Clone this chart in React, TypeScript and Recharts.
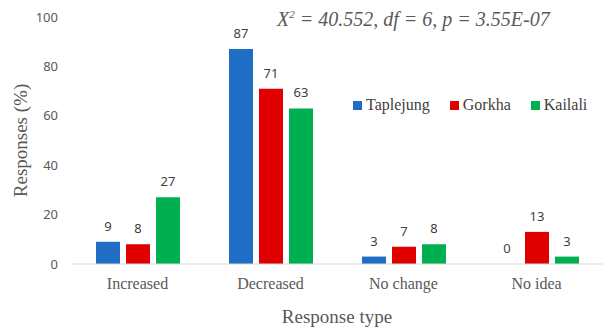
import {
  BarChart,
  Bar,
  XAxis,
  YAxis,
  Legend,
  LabelList,
} from "recharts";

const categories = ["Increased", "Decreased", "No change", "No idea"];
const seriesNames = ["Taplejung", "Gorkha", "Kailali"];
const taplejung = [9, 87, 3, 0];
const gorkha = [8, 71, 7, 13];
const kailali = [27, 63, 8, 3];
const yTicks = [0, 20, 40, 60, 80, 100];

const data = categories.map((type, i) => ({
  type,
  Taplejung: taplejung[i],
  Gorkha: gorkha[i],
  Kailali: kailali[i],
  TaplejungLabel: String(taplejung[i]),
  GorkhaLabel: String(gorkha[i]),
  KailaliLabel: String(kailali[i]),
}));

const serif = "'Liberation Serif', 'Times New Roman', serif";
const sans = "'Noto Sans', 'Open Sans', sans-serif";
const labelStyle = { fontFamily: sans, fontSize: 13, fill: "#404040" };

// zero values still need their "0" label above the axis
const keepZero = (v: any) => (v === 0 ? 0.01 : 0);

function LegendBox(props: any) {
  const items = [...(props.payload || [])].sort(
    (a: any, b: any) => seriesNames.indexOf(a.value) - seriesNames.indexOf(b.value)
  );
  return (
    <div style={{ display: "flex", gap: 20, fontFamily: serif, fontSize: 16, color: "#404040" }}>
      {items.map((it: any) => (
        <div key={it.value} style={{ display: "flex", alignItems: "center" }}>
          <span style={{ width: 9, height: 9, background: it.color, marginRight: 4, display: "inline-block" }} />
          <span>{it.value}</span>
        </div>
      ))}
    </div>
  );
}

export default function App() {
  return (
    <div style={{ position: "absolute", left: 0, top: 0, width: 603, height: 329, background: "#fff" }}>
      <div
        style={{
          position: "absolute",
          left: 277,
          top: 8,
          fontFamily: serif,
          fontStyle: "italic",
          fontSize: 20,
          color: "#595959",
          whiteSpace: "nowrap",
          zIndex: 2,
        }}
      >
        X<sup style={{ fontSize: 11 }}>2</sup> = 40.552, df = 6, p = 3.55E-07
      </div>
      <BarChart
        width={603}
        height={329}
        data={data}
        margin={{ top: 17, right: 0, left: 0, bottom: 0 }}
        barSize={24}
        barGap={6}
      >
        <XAxis
          dataKey="type"
          axisLine={{ stroke: "#d9d9d9" }}
          tickLine={false}
          tickMargin={8}
          height={65}
          tick={{ fontFamily: serif, fontSize: 16, fill: "#595959" }}
          label={{
            value: "Response type",
            position: "insideBottom",
            offset: 6,
            style: { fontFamily: serif, fontSize: 19, fill: "#595959" },
          }}
        />
        <YAxis
          width={71}
          domain={[0, 100]}
          ticks={yTicks}
          axisLine={false}
          tickLine={false}
          tickMargin={7}
          tick={{ fontFamily: sans, fontSize: 13, fill: "#595959" }}
          label={{
            value: "Responses (%)",
            angle: -90,
            position: "insideLeft",
            offset: 20,
            style: { fontFamily: serif, fontSize: 19, fill: "#595959", textAnchor: "middle" },
          }}
        />
        <Legend
          layout="horizontal"
          verticalAlign="middle"
          align="center"
          content={LegendBox}
          wrapperStyle={{ position: "absolute", left: 353, top: 96, width: 250 }}
        />
        <Bar dataKey="Taplejung" fill="#1f6dc5" minPointSize={keepZero} isAnimationActive={false}>
          <LabelList dataKey="TaplejungLabel" position="top" offset={11} style={labelStyle} />
        </Bar>
        <Bar dataKey="Gorkha" fill="#e00000" isAnimationActive={false}>
          <LabelList dataKey="GorkhaLabel" position="top" offset={11} style={labelStyle} />
        </Bar>
        <Bar dataKey="Kailali" fill="#00b050" isAnimationActive={false}>
          <LabelList dataKey="KailaliLabel" position="top" offset={11} style={labelStyle} />
        </Bar>
      </BarChart>
    </div>
  );
}
